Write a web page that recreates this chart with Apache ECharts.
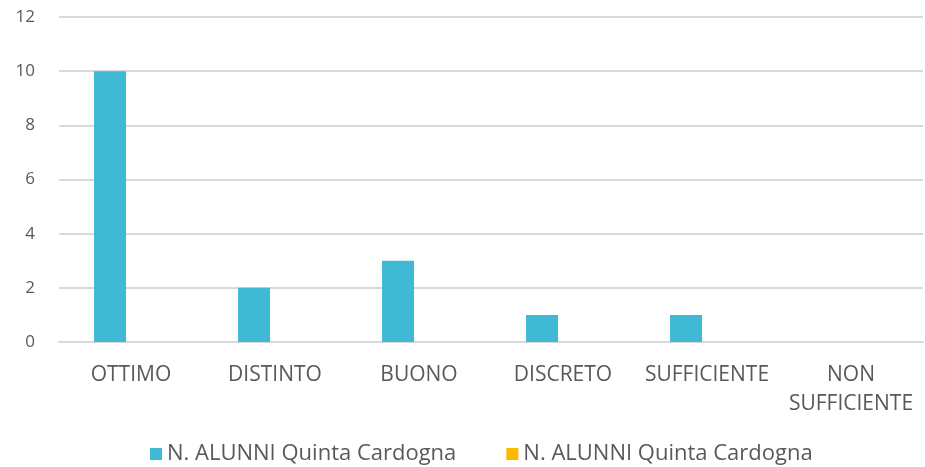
<!DOCTYPE html>
<html><head><meta charset="utf-8">
<script src="https://cdn.jsdelivr.net/npm/echarts@6/dist/echarts.min.js"></script>
<style>html,body{margin:0;padding:0;background:#fff}#c{width:925px;height:467px}</style>
</head><body><div id="c"></div>
<script>
const categories = ['OTTIMO','DISTINTO','BUONO','DISCRETO','SUFFICIENTE','NON SUFFICIENTE'];
const seriesNames = ['N. ALUNNI Quinta Cardogna','N. ALUNNI Quinta Cardogna '];
const values1 = [10, 2, 3, 1, 1, 0];
const values2 = [0, 0, 0, 0, 0, 0];
const FONT = 'Open Sans';
const chart = echarts.init(document.getElementById('c'));
chart.setOption({
  animation: false,
  textStyle: {fontFamily: FONT},
  grid: {left: 59, right: 2, top: 17, bottom: 125, containLabel: false},
  legend: {
    top: 443, left: 150, padding: 0, itemWidth: 12, itemHeight: 12, itemGap: 50,
    icon: 'rect',
    textStyle: {color: '#595959', fontSize: 22, fontFamily: FONT},
    data: seriesNames,
    formatter: n => n.trim()
  },
  xAxis: {
    type: 'category', data: categories,
    axisLine: {lineStyle: {color: '#d9d9d9', width: 2}},
    axisTick: {show: false},
    axisLabel: {color: '#595959', fontSize: 21, fontFamily: FONT, margin: 19, interval: 0, lineHeight: 29,
      formatter: v => v === 'NON SUFFICIENTE' ? 'NON\nSUFFICIENTE' : v}
  },
  yAxis: {
    type: 'value', min: 0, max: 12, interval: 2,
    axisLine: {show: false}, axisTick: {show: false},
    splitLine: {lineStyle: {color: '#d9d9d9', width: 2}},
    axisLabel: {color: '#595959', fontSize: 17, fontFamily: FONT, margin: 24}
  },
  series: [
    {name: seriesNames[0], type: 'bar', data: values1, barWidth: 32, barGap: '31%', itemStyle: {color: '#40BAD4'}},
    {name: seriesNames[1], type: 'bar', data: values2, barWidth: 32, itemStyle: {color: '#FBBA00'}}
  ]
});
</script></body></html>
